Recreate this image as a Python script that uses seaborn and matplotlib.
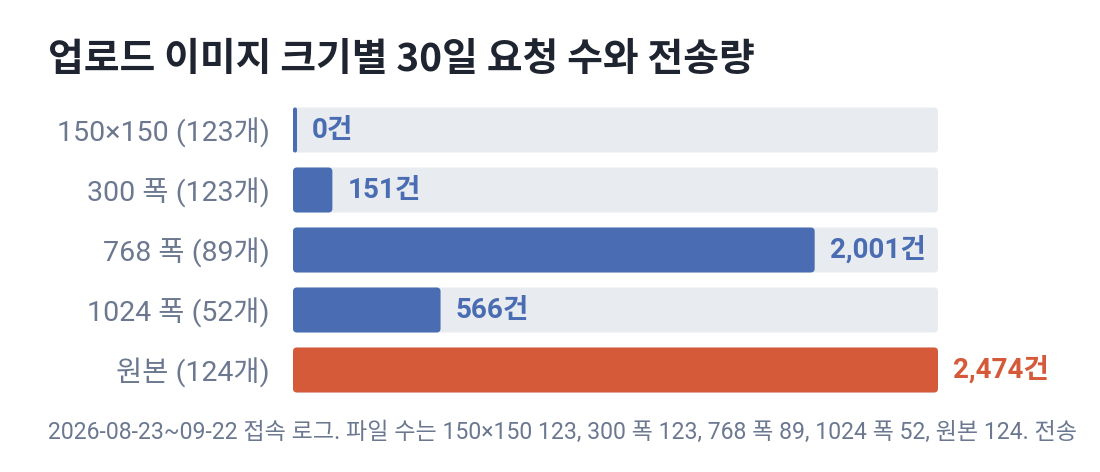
import matplotlib
matplotlib.use("Agg")
import matplotlib.pyplot as plt
import seaborn as sns
import pandas as pd
from matplotlib.patches import FancyBboxPatch

categories = ["150×150 (123개)", "300 폭 (123개)", "768 폭 (89개)", "1024 폭 (52개)", "원본 (124개)"]
requests = [0, 151, 2001, 566, 2474]
highlight = [False, False, False, False, True]

title = "업로드 이미지 크기별 30일 요청 수와 전송량"
footnote = "2026-08-23~09-22 접속 로그. 파일 수는 150×150 123, 300 폭 123, 768 폭 89, 1024 폭 52, 원본 124. 전송"

BLUE = "#4a6cb2"
ORANGE = "#d55a3a"
TRACK = "#e8ebf0"
LABEL = "#6b7890"
TITLE = "#1f2530"

sns.set_theme(style="white")
FONTS = ["Roboto", "Noto Sans CJK KR", "DejaVu Sans"]
plt.rcParams["font.family"] = FONTS

W, H, DPI = 1100, 472, 100
fig = plt.figure(figsize=(W / DPI, H / DPI), dpi=DPI)
ax = fig.add_axes([293 / W, 1 - 400 / H, (938 - 293) / W, 300 / H])

vmax = max(requests)
df = pd.DataFrame({"cat": categories, "val": requests, "track": [vmax] * len(categories),
                   "hl": ["y" if h else "n" for h in highlight]})

sns.barplot(data=df, y="cat", x="track", color=TRACK, width=0.75, ax=ax, orient="h",
            saturation=1)
sns.barplot(data=df, y="cat", x="val", hue="hl", palette={"n": BLUE, "y": ORANGE},
            width=0.75, ax=ax, orient="h", legend=False, dodge=False, saturation=1)

ax.set_xlim(0, vmax)
ax.set_ylim(len(categories) - 0.5, -0.5)
for s in ax.spines.values():
    s.set_visible(False)
ax.set_xticks([])
ax.set_xlabel("")
ax.set_ylabel("")
ax.tick_params(axis="y", length=0, pad=17)
for t in ax.get_yticklabels():
    t.set_color(LABEL)
    t.set_fontsize(20.5)
    t.set_family(FONTS)

# pixel scales
px_x = (938 - 293) / vmax
px_y = 300 / len(categories)
radius_px = 4
min_w = 4 / px_x

patches = list(ax.patches)
for p in patches:
    x0, y0 = p.get_x(), p.get_y()
    w, h = p.get_width(), p.get_height()
    w = max(w, min_w)
    r = min(radius_px / px_x, w / 2)
    fb = FancyBboxPatch((x0, y0), w, h,
                        boxstyle=f"round,pad=0,rounding_size={r}",
                        mutation_aspect=px_x / px_y,
                        facecolor=p.get_facecolor(), edgecolor="none",
                        zorder=p.get_zorder())
    p.remove()
    ax.add_patch(fb)

# value labels
for i, (v, hl) in enumerate(zip(requests, highlight)):
    w = max(v, min_w)
    ax.text(w + 15 / px_x, i, f"{v:,}건", va="center", ha="left",
            fontsize=20, fontweight="bold", color=ORANGE if hl else BLUE,
            family=FONTS, clip_on=False)

fig.text(48 / W, 1 - 60 / H, title, fontsize=28, fontweight="bold", color=TITLE,
         va="center", ha="left", family=["Noto Sans CJK KR", "DejaVu Sans"])
fig.text(48 / W, 1 - 432 / H, footnote, fontsize=16.6, color=LABEL,
         va="center", ha="left", family=FONTS)

fig.savefig("out.png", dpi=DPI, facecolor="white")
